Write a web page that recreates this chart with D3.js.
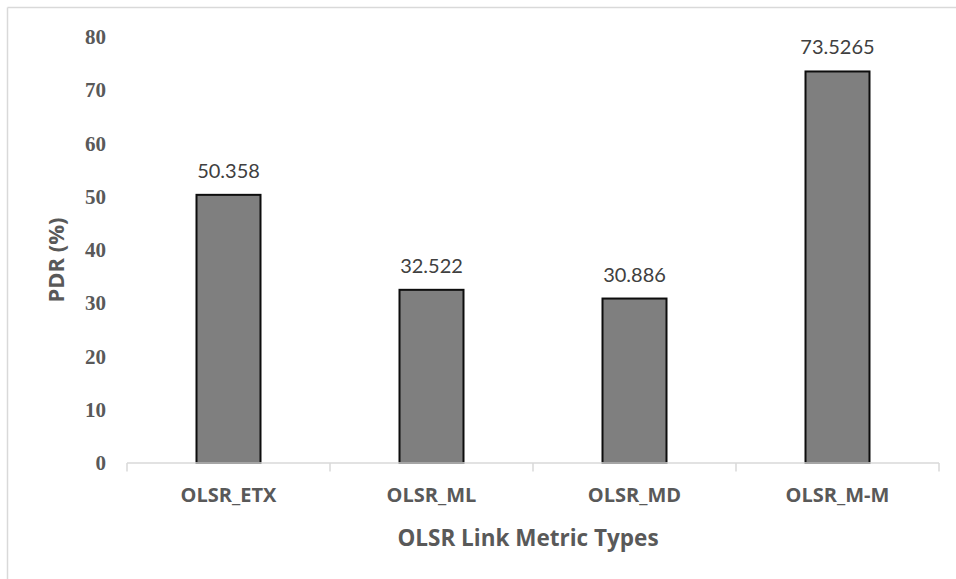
<!DOCTYPE html>
<html>
<head>
<meta charset="utf-8">
<script src="https://cdn.jsdelivr.net/npm/d3@7"></script>
<style>
  html, body { margin: 0; padding: 0; background: #fff; }
  svg { display: block; }
</style>
</head>
<body>
<svg id="chart" width="956" height="579"></svg>
<script>
const categories = ["OLSR_ETX", "OLSR_ML", "OLSR_MD", "OLSR_M-M"];
const pdrValues = [50.358, 32.522, 30.886, 73.5265];
const valueLabels = ["50.358", "32.522", "30.886", "73.5265"];
const yTicks = [0, 10, 20, 30, 40, 50, 60, 70, 80];
const yTitle = "PDR (%)";
const xTitle = "OLSR Link Metric Types";

const svg = d3.select("#chart");
const W = 956, H = 579;
const mLeft = 127, mRight = 939, mTop = 37, mBottom = 463;
const boldFont = "'Open Sans', 'Noto Sans', sans-serif";

// outer frame (top and left visible)
svg.append("line").attr("x1", 7.5).attr("x2", W).attr("y1", 7.5).attr("y2", 7.5)
  .attr("stroke", "#d9d9d9").attr("stroke-width", 1.5);
svg.append("line").attr("x1", 7.5).attr("x2", 7.5).attr("y1", 7.5).attr("y2", H)
  .attr("stroke", "#d9d9d9").attr("stroke-width", 1.5);

const x = d3.scaleBand().domain(categories).range([mLeft, mRight]).paddingInner(0).paddingOuter(0);
const y = d3.scaleLinear().domain([0, 80]).range([mBottom, mTop]);

// y axis labels
const yAxis = d3.axisLeft(y).tickValues(yTicks).tickSize(0).tickPadding(0).tickFormat(d3.format("d"));
const yg = svg.append("g").attr("transform", `translate(106,0)`).call(yAxis);
yg.select(".domain").remove();
yg.selectAll("text")
  .attr("font-family", "'Liberation Serif', 'Times New Roman', serif")
  .attr("font-weight", "bold")
  .attr("font-size", "21px")
  .attr("fill", "#595959");

// bars
const barW = 64;
svg.append("g").selectAll("rect").data(categories).join("rect")
  .attr("x", d => x(d) + x.bandwidth() / 2 - barW / 2)
  .attr("y", (d, i) => y(pdrValues[i]))
  .attr("width", barW)
  .attr("height", (d, i) => mBottom - y(pdrValues[i]))
  .attr("fill", "#7f7f7f")
  .attr("stroke", "#0d0d0d")
  .attr("stroke-width", 2);

// x axis
const xAxis = d3.axisBottom(x).tickSize(0).tickPadding(0);
const xg = svg.append("g").attr("transform", `translate(0,${mBottom})`).call(xAxis);
xg.select(".domain").attr("stroke", "#d9d9d9").attr("stroke-width", 1.5)
  .attr("d", `M${mLeft},0H${mRight}`);
xg.selectAll(".tick text").attr("dy", 0).attr("y", 39)
  .attr("font-family", boldFont)
  .attr("font-weight", "bold")
  .attr("font-size", "20px")
  .attr("fill", "#595959");
// category separator ticks
const bounds = categories.map(c => x(c)).concat([x(categories[categories.length - 1]) + x.bandwidth()]);
xg.selectAll(".sep").data(bounds).join("line").attr("class", "sep")
  .attr("x1", d => d).attr("x2", d => d).attr("y1", 0).attr("y2", 8.5)
  .attr("stroke", "#d9d9d9").attr("stroke-width", 1.5);

// value labels
svg.append("g").selectAll("text").data(categories).join("text")
  .attr("x", d => x(d) + x.bandwidth() / 2)
  .attr("y", (d, i) => y(pdrValues[i]) - 17)
  .attr("text-anchor", "middle")
  .attr("font-family", "Lato, 'Open Sans', sans-serif")
  .attr("font-size", "20px")
  .attr("fill", "#404040")
  .text((d, i) => valueLabels[i]);

// axis titles
svg.append("text")
  .attr("transform", "translate(64,260) rotate(-90)")
  .attr("text-anchor", "middle")
  .attr("font-family", boldFont)
  .attr("font-weight", "bold")
  .attr("font-size", "22px")
  .attr("fill", "#595959")
  .text(yTitle);

svg.append("text")
  .attr("x", 528)
  .attr("y", 546)
  .attr("text-anchor", "middle")
  .attr("font-family", boldFont)
  .attr("font-weight", "bold")
  .attr("font-size", "22.5px")
  .attr("fill", "#595959")
  .text(xTitle);
</script>
</body>
</html>
